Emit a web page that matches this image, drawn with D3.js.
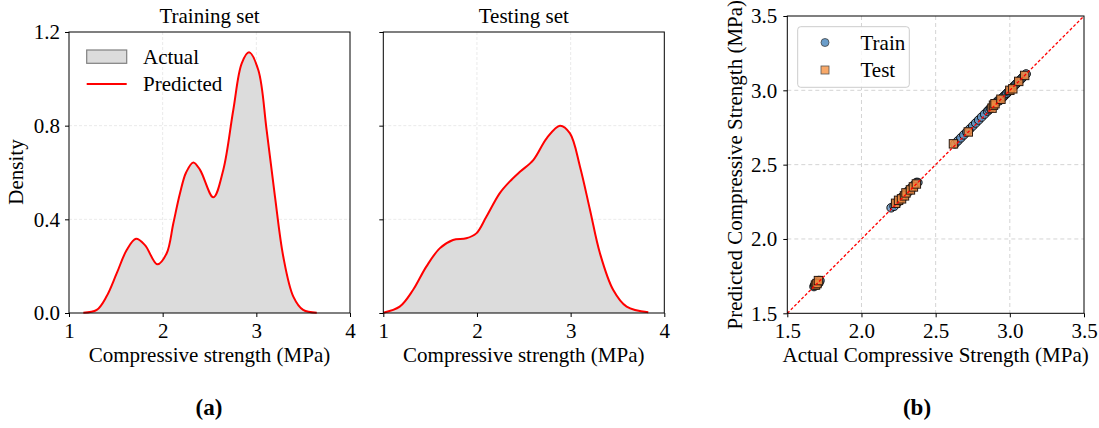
<!DOCTYPE html>
<html><head><meta charset="utf-8">
<script src="https://cdn.jsdelivr.net/npm/d3@7"></script>
<style>
body{margin:0;background:#fff;}
svg{display:block;}
text{font-family:"Liberation Serif","Times New Roman",serif;fill:#000;}
</style></head>
<body><svg id="c" width="1099" height="428"></svg>
<script>
// ---------- data ----------
const trainX = [1.153,1.296,1.40,1.51,1.616,1.715,1.811,1.943,2.043,2.114,2.185,2.25,2.327,2.399,2.541,2.647,2.754,2.844,2.922,3.021,3.11,3.199,3.288,3.395,3.50,3.645];
const trainD = [0.001,0.013,0.07,0.17,0.269,0.317,0.29,0.208,0.255,0.383,0.511,0.60,0.643,0.611,0.494,0.611,0.867,1.066,1.113,1.038,0.781,0.497,0.24,0.07,0.013,0.001];
const testX  = [1.0,1.175,1.317,1.459,1.602,1.744,1.886,1.993,2.10,2.242,2.349,2.459,2.601,2.744,2.886,2.993,3.10,3.207,3.313,3.455,3.598,3.829];
const testD  = [0.001,0.027,0.098,0.198,0.276,0.312,0.319,0.34,0.411,0.511,0.561,0.603,0.653,0.746,0.80,0.767,0.625,0.44,0.255,0.098,0.027,0.003];
const densXTicks = [1,2,3,4];
const densYTicks = [0.0,0.4,0.8,1.2];
const scTicks = [1.5,2.0,2.5,3.0,3.5];

const trActual = [1.68,1.685,1.69,1.69,1.695,1.70,1.70,1.705,1.71,1.71,1.715,1.72,
  2.20,2.22,2.23,2.24,2.25,2.26,2.27,2.28,2.29,2.30,2.31,2.32,2.33,2.34,2.35,2.36,2.37,2.38,
  2.63,2.65,2.67,2.69,2.71,2.73,2.75,2.77,2.79,2.81,2.83,2.85,2.86,2.87,2.88,2.89,2.90,2.91,2.92,2.93,2.94,2.95,2.96,2.97,2.98,2.99,3.00,3.01,3.02,3.03,3.04,3.05,3.06,3.07,3.08,3.09,3.10,3.11];
const trPred = [1.68,1.69,1.69,1.70,1.70,1.69,1.71,1.70,1.70,1.72,1.71,1.72,
  2.21,2.22,2.24,2.24,2.26,2.26,2.28,2.28,2.30,2.30,2.32,2.32,2.34,2.34,2.36,2.36,2.38,2.38,
  2.64,2.66,2.68,2.70,2.72,2.74,2.76,2.78,2.80,2.82,2.84,2.86,2.87,2.88,2.89,2.90,2.91,2.92,2.93,2.93,2.94,2.95,2.96,2.97,2.98,2.99,3.00,3.01,3.02,3.03,3.04,3.05,3.06,3.07,3.08,3.09,3.10,3.11];
const teActual = [1.69,1.70,1.71,2.23,2.25,2.27,2.29,2.30,2.33,2.35,2.37,2.62,2.72,2.88,2.89,2.90,2.94,3.00,3.02,3.06,3.10];
const tePred   = [1.69,1.70,1.72,2.24,2.26,2.27,2.29,2.31,2.33,2.35,2.37,2.64,2.72,2.88,2.90,2.91,2.94,3.00,3.01,3.06,3.10];

// ---------- drawing ----------
const svg = d3.select("#c");
const FS = 21;
const red = "#ff0000";

function densityPanel(x0, x1, xs, ds, title, showY, legend){
  const x = d3.scaleLinear().domain([1,4]).range([x0,x1]);
  const y = d3.scaleLinear().domain([0,1.2]).range([313,32]);
  const g = svg.append("g");
  g.selectAll(".gx").data([2,3]).join("line")
    .attr("x1",d=>x(d)).attr("x2",d=>x(d)).attr("y1",32).attr("y2",313)
    .attr("stroke","#e4e4e4").attr("stroke-width",0.8).attr("stroke-dasharray","3,2");
  g.selectAll(".gy").data([0.4,0.8]).join("line")
    .attr("x1",x0).attr("x2",x1).attr("y1",d=>y(d)).attr("y2",d=>y(d))
    .attr("stroke","#e4e4e4").attr("stroke-width",0.8).attr("stroke-dasharray","3,2");
  const pts = xs.map((v,i)=>[v,ds[i]]);
  const cv = d3.curveCatmullRom.alpha(0.5);
  const area = d3.area().x(d=>x(d[0])).y0(y(0)).y1(d=>y(Math.max(0,d[1]))).curve(cv);
  const line = d3.line().x(d=>x(d[0])).y(d=>y(d[1])).curve(cv);
  g.append("path").datum(pts).attr("d",area).attr("fill","#dcdcdc");
  g.append("path").datum(pts).attr("d",line).attr("fill","none").attr("stroke",red).attr("stroke-width",2);
  g.append("rect").attr("x",x0).attr("y",32).attr("width",x1-x0).attr("height",281)
    .attr("fill","none").attr("stroke","#000").attr("stroke-width",1);
  const ax = g.append("g").attr("transform","translate(0,313)")
    .call(d3.axisBottom(x).tickValues(densXTicks).tickFormat(d3.format("d")).tickSize(4).tickPadding(6));
  const ay = g.append("g").attr("transform",`translate(${x0},0)`)
    .call(d3.axisLeft(y).tickValues(densYTicks).tickFormat(showY?d3.format(".1f"):()=>"").tickSize(4).tickPadding(5));
  [ax,ay].forEach(a=>{a.select(".domain").remove();a.selectAll("text").style("font-size",FS+"px").style("font-family","Liberation Serif");});
  g.append("text").attr("x",(x0+x1)/2).attr("y",23).attr("text-anchor","middle").style("font-size",FS+"px").text(title);
  g.append("text").attr("x",(x0+x1)/2).attr("y",362).attr("text-anchor","middle").style("font-size",FS+"px").text("Compressive strength (MPa)");
  if(showY){
    g.append("text").attr("transform","translate(23,172) rotate(-90)").attr("text-anchor","middle").style("font-size",FS+"px").text("Density");
  }
  if(legend){
    g.append("rect").attr("x",86.7).attr("y",50).attr("width",40).attr("height",13.3)
      .attr("fill","#dcdcdc").attr("stroke","#808080").attr("stroke-width",1.2);
    g.append("line").attr("x1",86.7).attr("x2",126.7).attr("y1",84).attr("y2",84).attr("stroke",red).attr("stroke-width",2);
    g.append("text").attr("x",143).attr("y",64).style("font-size",FS+"px").text("Actual");
    g.append("text").attr("x",143).attr("y",91).style("font-size",FS+"px").text("Predicted");
  }
}
densityPanel(69,350,trainX,trainD,"Training set",true,true);
densityPanel(383.3,664.3,testX,testD,"Testing set",false,false);

(function(){
  const x0=787.3,x1=1084,yT=16,yB=313.3;
  const x = d3.scaleLinear().domain([1.5,3.5]).range([x0,x1]);
  const y = d3.scaleLinear().domain([1.5,3.5]).range([yB,yT]);
  const g = svg.append("g");
  g.selectAll(".gx").data([2.0,2.5,3.0]).join("line")
    .attr("x1",d=>x(d)).attr("x2",d=>x(d)).attr("y1",yT).attr("y2",yB)
    .attr("stroke","#d4d4d4").attr("stroke-width",1).attr("stroke-dasharray","4,3");
  g.selectAll(".gy").data([2.0,2.5,3.0]).join("line")
    .attr("x1",x0).attr("x2",x1).attr("y1",d=>y(d)).attr("y2",d=>y(d))
    .attr("stroke","#d4d4d4").attr("stroke-width",1).attr("stroke-dasharray","4,3");
  g.selectAll(".tr").data(trActual).join("circle")
    .attr("cx",d=>x(d)).attr("cy",(d,i)=>y(trPred[i])).attr("r",4.3)
    .attr("fill","#5b8fbf").attr("fill-opacity",0.8).attr("stroke","#111").attr("stroke-width",1);
  g.selectAll(".te").data(teActual).join("rect")
    .attr("x",d=>x(d)-4.2).attr("y",(d,i)=>y(tePred[i])-4.2).attr("width",8.4).attr("height",8.4)
    .attr("fill","#f08a40").attr("fill-opacity",0.85).attr("stroke","#2a1a10").attr("stroke-width",1);
  g.append("line").attr("x1",x(1.5)).attr("y1",y(1.5)).attr("x2",x(3.5)).attr("y2",y(3.5))
    .attr("stroke",red).attr("stroke-width",1.3).attr("stroke-dasharray","3,2");
  g.append("rect").attr("x",x0).attr("y",yT).attr("width",x1-x0).attr("height",yB-yT)
    .attr("fill","none").attr("stroke","#000").attr("stroke-width",1);
  const ax = g.append("g").attr("transform",`translate(0,${yB})`)
    .call(d3.axisBottom(x).tickValues(scTicks).tickFormat(d3.format(".1f")).tickSize(4).tickPadding(6));
  const ay = g.append("g").attr("transform",`translate(${x0},0)`)
    .call(d3.axisLeft(y).tickValues(scTicks).tickFormat(d3.format(".1f")).tickSize(4).tickPadding(6));
  [ax,ay].forEach(a=>{a.select(".domain").remove();a.selectAll("text").style("font-size",FS+"px").style("font-family","Liberation Serif");});
  g.append("text").attr("x",(x0+x1)/2).attr("y",362).attr("text-anchor","middle").style("font-size",FS+"px").text("Actual Compressive Strength (MPa)");
  g.append("text").attr("transform",`translate(742,${(yT+yB)/2}) rotate(-90)`).attr("text-anchor","middle").style("font-size",FS+"px").text("Predicted Compressive Strength (MPa)");
  g.append("rect").attr("x",797.7).attr("y",26.7).attr("width",111.6).attr("height",60.6).attr("rx",3)
    .attr("fill","#fff").attr("fill-opacity",0.8).attr("stroke","#cccccc").attr("stroke-width",1);
  g.append("circle").attr("cx",825).attr("cy",42.5).attr("r",4).attr("fill","#6a9dca").attr("stroke","#444").attr("stroke-width",0.8);
  g.append("rect").attr("x",821).attr("y",66).attr("width",8).attr("height",8).attr("fill","#f8a868").attr("stroke","#555").attr("stroke-width",0.8);
  g.append("text").attr("x",860.5).attr("y",49.5).style("font-size",FS+"px").text("Train");
  g.append("text").attr("x",860.5).attr("y",77).style("font-size",FS+"px").text("Test");
})();

svg.append("text").attr("x",209).attr("y",415).attr("text-anchor","middle").style("font-size","23px").style("font-weight","bold").text("(a)");
svg.append("text").attr("x",917).attr("y",415).attr("text-anchor","middle").style("font-size","23px").style("font-weight","bold").text("(b)");
</script></body></html>
